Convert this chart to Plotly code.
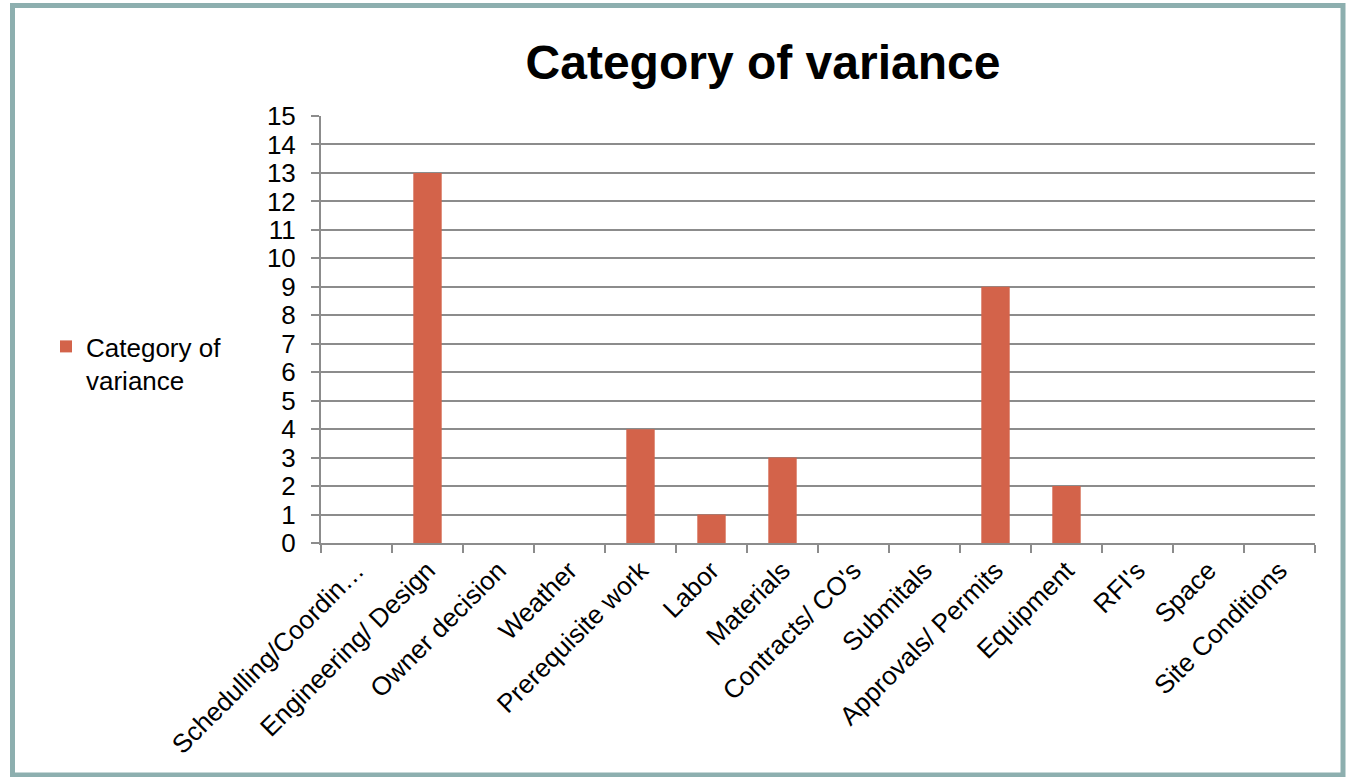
import plotly.graph_objects as go

# Variance counts per category
categories = [
    "Schedulling/Coordin…",
    "Engineering/ Design",
    "Owner decision",
    "Weather",
    "Prerequisite work",
    "Labor",
    "Materials",
    "Contracts/ CO's",
    "Submitals",
    "Approvals/ Permits",
    "Equipment",
    "RFI's",
    "Space",
    "Site Conditions",
]
counts = [0, 13, 0, 0, 4, 1, 3, 0, 0, 9, 2, 0, 0, 0]
y_ticks = list(range(0, 16))

series_name = "Category of<br>variance"
title_text = "Category of variance"

FONT = "Liberation Sans, Arial, sans-serif"
BAR_COLOR = "#D3634A"
GRID = "#8C8C8C"
FRAME = "#8DAFAF"

W, H = 1349, 777
M_L, M_R, M_T, M_B = 321, 34, 116, 234
PW, PH = W - M_L - M_R, H - M_T - M_B


def px_x(p):
    return (p - M_L) / PW


def px_y(p):
    return (H - M_B - p) / PH


fig = go.Figure()
fig.add_trace(go.Bar(
    x=categories,
    y=counts,
    name=series_name,
    marker=dict(color=BAR_COLOR, line=dict(width=0)),
    showlegend=True,
))

fig.update_layout(
    width=W,
    height=H,
    margin=dict(l=M_L, r=M_R, t=M_T, b=M_B, autoexpand=False),
    paper_bgcolor="white",
    plot_bgcolor="white",
    font=dict(family=FONT, size=26, color="black"),
    bargap=0.6,
    title=dict(
        text="<b>" + title_text + "</b>",
        font=dict(family=FONT, size=48, color="black"),
        x=763 / W, xanchor="center", xref="container",
        y=1 - 62 / H, yanchor="middle", yref="container",
    ),
    showlegend=True,
    legend=dict(
        x=46 / W, xref="container", xanchor="left",
        y=1 - 323 / H, yref="container", yanchor="top",
        font=dict(family=FONT, size=26, color="black"),
        valign="top",
        bgcolor="rgba(0,0,0,0)",
    ),
    xaxis=dict(
        type="category",
        range=[-0.5, len(categories) - 0.5],
        tickangle=-45,
        tickson="boundaries",
        ticks="outside",
        ticklen=8,
        tickwidth=2,
        tickcolor=GRID,
        showline=True,
        linecolor=GRID,
        linewidth=2,
        showgrid=False,
        tickfont=dict(family=FONT, size=26, color="black"),
        fixedrange=True,
    ),
    yaxis=dict(
        range=[0, 15],
        tickvals=y_ticks,
        ticks="outside",
        ticklen=8,
        tickwidth=2,
        tickcolor=GRID,
        showline=True,
        linecolor=GRID,
        linewidth=2,
        showgrid=True,
        gridcolor=GRID,
        gridwidth=2,
        zeroline=False,
        ticklabelstandoff=10,
        tickfont=dict(family=FONT, size=26, color="black"),
        fixedrange=True,
    ),
    shapes=[
        dict(
            type="rect", xref="paper", yref="paper",
            x0=px_x(12.5), x1=px_x(1343),
            y0=px_y(775), y1=px_y(5.5),
            line=dict(color=FRAME, width=5),
            fillcolor="rgba(0,0,0,0)",
            layer="above",
        )
    ],
)

fig.write_html("out.html", config={"displayModeBar": False})
